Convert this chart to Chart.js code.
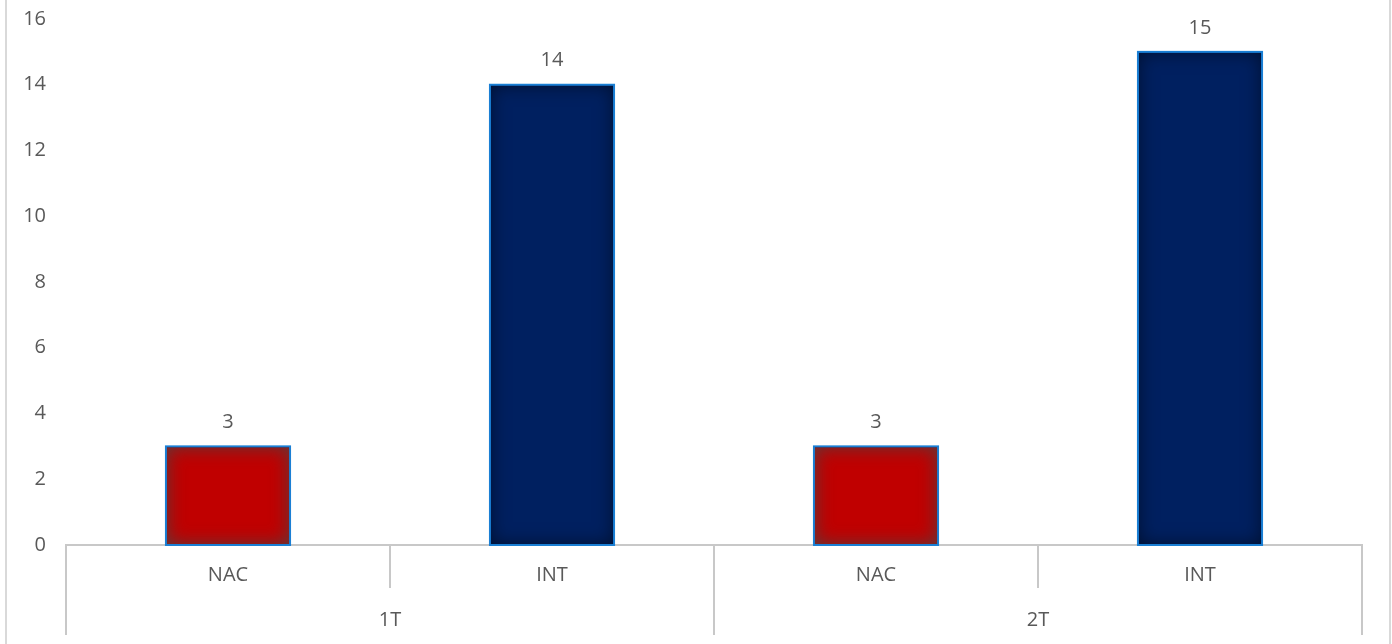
<!DOCTYPE html>
<html>
<head>
  <title>NAC / INT</title>
  <script src="https://cdn.jsdelivr.net/npm/chart.js"></script>
  <style>
    html, body { margin: 0; padding: 0; background: #fff; }
    #wrap { width: 1392px; height: 644px; }
  </style>
</head>
<body>
  <div id="wrap"><canvas id="barChart"></canvas></div>

  <script>
    // datos
    const categories = ['NAC', 'INT', 'NAC', 'INT'];
    const groups = ['1T', '2T'];
    const values = [3, 14, 3, 15];
    const yTicks = [0, 2, 4, 6, 8, 10, 12, 14, 16];

    const barColors = ['#c00000', '#002060', '#c00000', '#002060'];
    const textColor = '#595959';
    const lineColor = '#c8c8c8';
    const fontFamily = "'Open Sans', 'Liberation Sans', sans-serif";

    // etiquetas, lineas del eje de categorias y el brillo interior de las barras
    const decoPlugin = {
      id: 'deco',
      afterDatasetsDraw(chart) {
        const ctx = chart.ctx;
        const meta = chart.getDatasetMeta(0);
        meta.data.forEach((bar, i) => {
          const left = bar.x - bar.width / 2;
          const w = bar.width;
          const top = bar.y;
          const h = bar.base - bar.y;
          ctx.save();
          ctx.beginPath();
          ctx.rect(left + 1, top + 1, w - 2, h - 2);
          ctx.clip();
          ctx.beginPath();
          ctx.rect(left - 200, top - 200, w + 400, h + 400);
          ctx.rect(left + 1, top + 1, w - 2, h - 2);
          ctx.shadowColor = i % 2 === 0 ? 'rgba(70,70,70,0.85)' : 'rgba(0,0,0,0.5)';
          ctx.shadowBlur = 18;
          ctx.fillStyle = '#000';
          ctx.fill('evenodd');
          ctx.restore();

          ctx.save();
          ctx.strokeStyle = '#1a7fd4';
          ctx.lineWidth = 2;
          ctx.strokeRect(left, top, w, h);
          ctx.restore();

          // etiqueta de valor
          ctx.save();
          ctx.fillStyle = textColor;
          ctx.font = '20px ' + fontFamily;
          ctx.textAlign = 'center';
          ctx.textBaseline = 'middle';
          ctx.fillText(values[i], bar.x, top - 24);
          ctx.restore();
        });
      },
      afterDraw(chart) {
        const ctx = chart.ctx;
        const x = chart.scales.x;
        const area = chart.chartArea;
        const n = categories.length;
        const half = (x.getPixelForValue(1) - x.getPixelForValue(0)) / 2;
        const bottom = chart.height - 9;

        ctx.save();
        ctx.strokeStyle = lineColor;
        ctx.lineWidth = 2;
        for (let i = 0; i <= n; i++) {
          const px = i < n ? x.getPixelForValue(i) - half : x.getPixelForValue(n - 1) + half;
          const outer = i % 2 === 0;
          ctx.beginPath();
          ctx.moveTo(px, area.bottom);
          ctx.lineTo(px, outer ? bottom : area.bottom + 43);
          ctx.stroke();
        }
        // marco
        ctx.strokeStyle = '#d9d9d9';
        ctx.beginPath();
        ctx.moveTo(6, 0); ctx.lineTo(6, chart.height);
        ctx.moveTo(chart.width - 2, 0); ctx.lineTo(chart.width - 2, chart.height);
        ctx.stroke();

        ctx.fillStyle = textColor;
        ctx.font = '20px ' + fontFamily;
        ctx.textAlign = 'center';
        ctx.textBaseline = 'middle';
        categories.forEach((c, i) => {
          ctx.fillText(c, x.getPixelForValue(i), area.bottom + 30);
        });
        groups.forEach((g, j) => {
          const cx = (x.getPixelForValue(j * 2) + x.getPixelForValue(j * 2 + 1)) / 2;
          ctx.fillText(g, cx, area.bottom + 75);
        });
        ctx.restore();
      }
    };

    const ctx = document.getElementById('barChart').getContext('2d');
    new Chart(ctx, {
      type: 'bar',
      data: {
        labels: categories,
        datasets: [{
          data: values,
          backgroundColor: barColors,
          borderWidth: 0,
          barPercentage: 0.383,
          categoryPercentage: 1
        }]
      },
      options: {
        responsive: true,
        maintainAspectRatio: false,
        animation: false,
        layout: { padding: { top: 19, right: 30, left: 0, bottom: 0 } },
        plugins: {
          legend: { display: false },
          tooltip: { enabled: false }
        },
        scales: {
          x: {
            grid: { display: false },
            border: { display: true, color: lineColor, width: 2 },
            ticks: { display: false },
            afterFit(scale) { scale.height = 99; }
          },
          y: {
            min: 0,
            max: 16,
            afterBuildTicks(scale) { scale.ticks = yTicks.map(v => ({ value: v })); },
            grid: { display: false },
            border: { display: false },
            ticks: {
              color: textColor,
              font: { family: fontFamily, size: 20 },
              padding: 12
            },
            afterFit(scale) {
              scale.width = 66;
              scale.paddingTop = 0;
              scale.paddingBottom = 0;
            }
          }
        }
      },
      plugins: [decoPlugin]
    });
  </script>
</body>
</html>
